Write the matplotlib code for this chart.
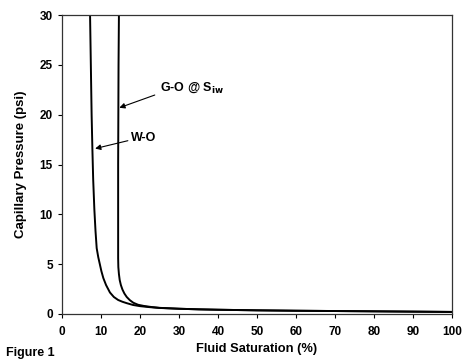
import matplotlib.pyplot as plt

plt.rcParams['font.family'] = ['Liberation Sans', 'DejaVu Sans']
plt.rcParams['font.weight'] = 'bold'

# W-O capillary pressure curve (saturation %, psi)
wo_sat = [7.2, 7.4, 7.6, 7.8, 8.0, 8.3, 8.6, 8.9, 9.3, 9.7, 10.1, 10.6, 11.3, 12.3, 13.3, 14.4,
          15.5, 16.6, 18.2, 20, 22.5, 25, 30, 35, 40, 50, 60, 70, 80, 90, 100]
wo_pc = [30, 25, 20, 16.5, 13.5, 10.5, 8.3, 6.6, 5.7, 5.0, 4.3, 3.6, 2.9, 2.15, 1.7, 1.4,
         1.22, 1.08, 0.9, 0.78, 0.68, 0.6, 0.52, 0.46, 0.42, 0.36, 0.32, 0.29, 0.26, 0.23, 0.2]

# G-O @ Swi curve
go_sat = [14.6, 14.5, 14.45, 14.4, 14.4, 14.4, 14.45, 14.6, 14.8, 15.1, 15.5, 16.0, 16.6,
          17.4, 18.3, 19.5, 21, 23, 25, 30, 35, 40, 50, 60, 70, 80, 90, 100]
go_pc = [30, 25, 20, 15, 10, 5.6, 4.7, 4.0, 3.4, 2.9, 2.45, 2.05, 1.7,
         1.38, 1.12, 0.92, 0.8, 0.69, 0.61, 0.52, 0.46, 0.42, 0.36, 0.32, 0.29, 0.26, 0.23, 0.2]

fig = plt.figure(figsize=(4.66, 3.6), dpi=100)
ax = fig.add_axes([0.133, 0.128, 0.837, 0.830])

ax.plot(wo_sat, wo_pc, color='black', lw=1.4, solid_joinstyle='round')
ax.plot(go_sat, go_pc, color='black', lw=1.4, solid_joinstyle='round')

ax.set_xlim(0, 100)
ax.set_ylim(0, 30)
ax.set_xticks(range(0, 101, 10))
ax.set_yticks(range(0, 31, 5))
ax.tick_params(direction='out', length=3, width=0.8, labelsize=8.5)
ax.tick_params(axis='x', pad=6)
for lab in ax.get_xticklabels() + ax.get_yticklabels():
    lab.set_fontweight('bold')
for s in ax.spines.values():
    s.set_linewidth(0.9)
    s.set_color('#333333')

ax.set_xlabel('Fluid Saturation (%)', fontsize=9.3, fontweight='bold', labelpad=3)
ax.set_ylabel('Capillary Pressure (psi)', fontsize=9.5, fontweight='bold', labelpad=9)

ax.annotate('G-O @ S$_{\\mathbf{iw}}$', xy=(14.7, 20.7), xytext=(25.1, 22.7),
            fontsize=9, fontweight='bold', va='center',
            arrowprops=dict(arrowstyle='-|>', color='black', lw=0.8,
                            mutation_scale=8, shrinkA=0, shrinkB=0,
                            relpos=(-0.08, 0.0)))
ax.annotate('W-O', xy=(8.5, 16.6), xytext=(17.6, 17.7),
            fontsize=9, fontweight='bold', va='center',
            arrowprops=dict(arrowstyle='-|>', color='black', lw=0.8,
                            mutation_scale=8, shrinkA=0, shrinkB=0,
                            relpos=(0.0, 0.3)))

fig.text(0.012, 0.002, 'Figure 1', fontsize=9, fontweight='bold', va='bottom')

fig.savefig('out.png', dpi=100)
